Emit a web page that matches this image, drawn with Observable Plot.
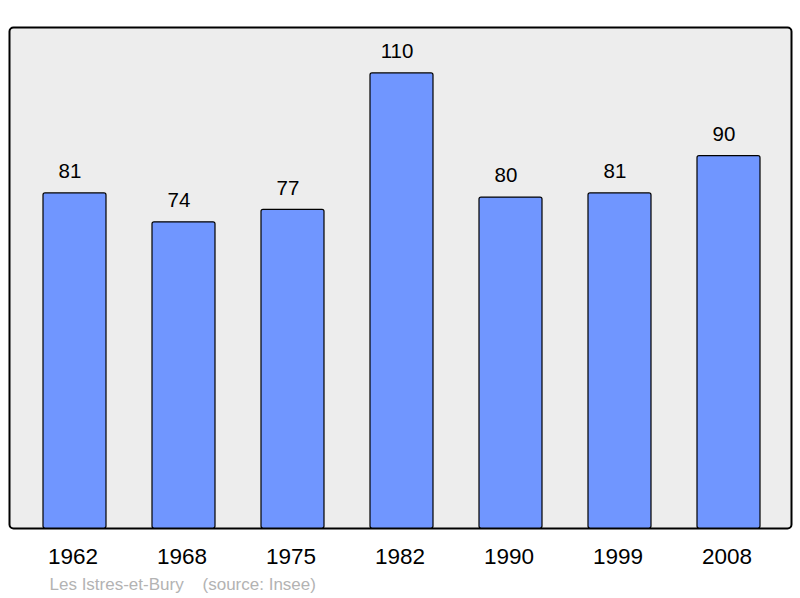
<!DOCTYPE html>
<html>
<head>
<meta charset="utf-8">
<script src="https://cdn.jsdelivr.net/npm/d3@7"></script>
<script src="https://cdn.jsdelivr.net/npm/@observablehq/plot@0.6"></script>
<style>
  html, body { margin: 0; padding: 0; background: #fff; }
  svg { display: block; }
</style>
</head>
<body>
<div id="chart"></div>
<script>
const years = ["1962", "1968", "1975", "1982", "1990", "1999", "2008"];
const population = [81, 74, 77, 110, 80, 81, 90];
const caption = "Les Istres-et-Bury    (source: Insee)";

const data = years.map((y, i) => ({year: y, value: population[i]}));

const chart = Plot.plot({
  width: 800,
  height: 598,
  marginTop: 27,
  marginBottom: 70,
  marginLeft: 9,
  marginRight: 9,
  style: {fontFamily: "Liberation Sans, Arial, sans-serif", background: "#fff"},
  x: {type: "band", domain: years, range: [41.5, 761.5], paddingInner: 0.424, paddingOuter: 0, label: null},
  y: {domain: [0, 121.1], axis: null},
  marks: [
    Plot.frame({fill: "#ededed", stroke: "#000", strokeWidth: 2, rx: 4}),
    Plot.barY(data, {x: "year", y: "value", fill: "#7096ff", stroke: "#000", strokeWidth: 1.2, rx: 2}),
    Plot.text(data, {x: "year", y: "value", text: d => String(d.value), dx: -5, dy: -22, fontSize: 20.5, fill: "#000"}),
    Plot.axisX({tickSize: 0, tickPadding: 20, dx: -2, fontSize: 22.5, fill: "#000"}),
    Plot.text([caption], {frameAnchor: "bottom-left", dx: 40, dy: 61, text: d => d, fontSize: 17, fill: "#b3b3b3", textAnchor: "start"})
  ]
});
document.getElementById("chart").appendChild(chart);
</script>
</body>
</html>
